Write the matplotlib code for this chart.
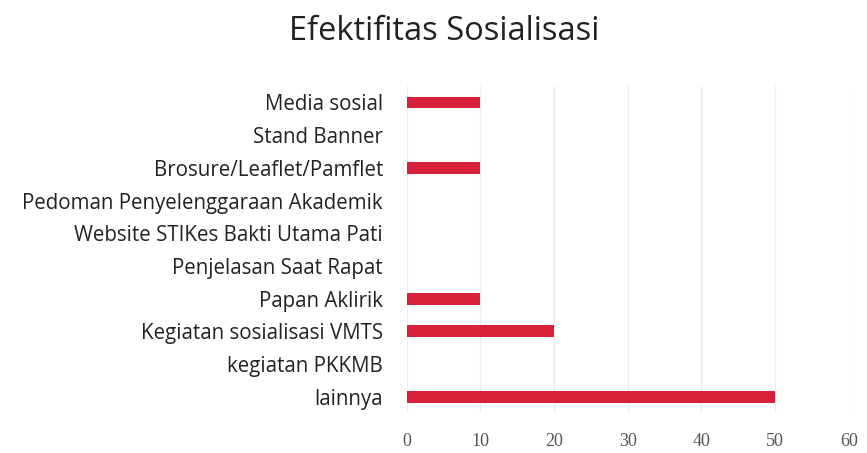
import matplotlib.pyplot as plt

# data (top to bottom)
categories = ['Media sosial', 'Stand Banner', 'Brosure/Leaflet/Pamflet',
              'Pedoman Penyelenggaraan Akademik', 'Website STIKes Bakti Utama Pati',
              'Penjelasan Saat Rapat', 'Papan Aklirik', 'Kegiatan sosialisasi VMTS',
              'kegiatan PKKMB', 'lainnya']
values = [10, 0, 10, 0, 0, 0, 10, 20, 0, 50]
xticks = [0, 10, 20, 30, 40, 50, 60]

fig = plt.figure(figsize=(8.67, 4.53), dpi=100)
ax = fig.add_axes([0.469, 0.088, 0.510, 0.722])

ypos = list(range(len(categories)))[::-1]
ax.barh(ypos, values, height=0.36, color='#d8203a', zorder=3)

ax.set_xlim(0, 60)
ax.set_ylim(-0.5, len(categories) - 0.5)
ax.set_xticks(xticks)
ax.set_xticklabels([str(t) for t in xticks], family='Liberation Serif',
                   fontsize=13, color='#555555')
ax.set_yticks(ypos)
ax.set_yticklabels(categories, family='Open Sans', fontsize=14.8, color='#222222')
ax.tick_params(axis='both', length=0)
ax.tick_params(axis='x', pad=14)
ax.tick_params(axis='y', pad=17)
ax.grid(axis='x', color='#eeeeee', linewidth=1, zorder=0)
for s in ax.spines.values():
    s.set_visible(False)

fig.text(0.512, 0.93, 'Efektifitas Sosialisasi', ha='center', va='center',
         family='Open Sans', fontsize=23.5, color='#222222')

fig.savefig('out.png', dpi=100)
